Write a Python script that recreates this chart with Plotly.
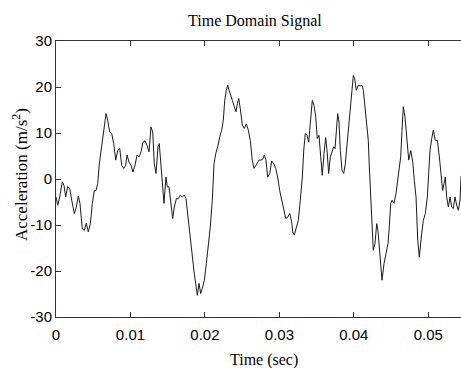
import plotly.graph_objects as go

# time (s) and acceleration (m/s^2)
time_s = [
    0.0, 0.00023, 0.00050, 0.00085, 0.00107, 0.00130, 0.00157, 0.00184, 0.00211, 0.00246,
    0.00273, 0.00300, 0.00322, 0.00353, 0.00380, 0.00407, 0.00434, 0.00461, 0.00488, 0.00514,
    0.00537, 0.00560, 0.00582, 0.00614, 0.00645, 0.00672, 0.00694, 0.00721, 0.00748, 0.00775,
    0.00802, 0.00829, 0.00856, 0.00882, 0.00909, 0.00936, 0.00954, 0.00980, 0.01007, 0.01034,
    0.01061, 0.01088, 0.01115, 0.01142, 0.01168, 0.01195, 0.01222, 0.01249, 0.01276, 0.01299,
    0.01320, 0.01343, 0.01370, 0.01387, 0.01401, 0.01428, 0.01450, 0.01477, 0.01495, 0.01518,
    0.01540, 0.01567, 0.01589, 0.01616, 0.01642, 0.01669, 0.01696, 0.01723, 0.01746, 0.01769,
    0.01790, 0.01813, 0.01836, 0.01857, 0.01876, 0.01898, 0.01921, 0.01943, 0.01965, 0.01992,
    0.02019, 0.02045, 0.02072, 0.02099, 0.02122, 0.02145, 0.02172, 0.02198, 0.02225, 0.02247,
    0.02266, 0.02287, 0.02306, 0.02323, 0.02341, 0.02368, 0.02395, 0.02417, 0.02435, 0.02454,
    0.02475, 0.02502, 0.02529, 0.02556, 0.02583, 0.02609, 0.02636, 0.02659, 0.02686, 0.02717,
    0.02726, 0.02753, 0.02780, 0.02797, 0.02820, 0.02843, 0.02870, 0.02897, 0.02924, 0.02951,
    0.02977, 0.03004, 0.03031, 0.03058, 0.03085, 0.03112, 0.03139, 0.03165, 0.03179, 0.03200,
    0.03227, 0.03254, 0.03281, 0.03308, 0.03327, 0.03348, 0.03371, 0.03394, 0.03407, 0.03425,
    0.03442, 0.03465, 0.03488, 0.03509, 0.03532, 0.03555, 0.03576, 0.03599, 0.03622, 0.03640,
    0.03662, 0.03684, 0.03707, 0.03730, 0.03747, 0.03764, 0.03783, 0.03801, 0.03818, 0.03841,
    0.03864, 0.03885, 0.03908, 0.03931, 0.03952, 0.03975, 0.03993, 0.04011, 0.04033, 0.04060,
    0.04083, 0.04110, 0.04127, 0.04146, 0.04173, 0.04194, 0.04208, 0.04226, 0.04244, 0.04261,
    0.04284, 0.04307, 0.04324, 0.04342, 0.04361, 0.04378, 0.04405, 0.04432, 0.04459, 0.04476,
    0.04495, 0.04513, 0.04539, 0.04566, 0.04593, 0.04611, 0.04629, 0.04647, 0.04664, 0.04687,
    0.04710, 0.04737, 0.04764, 0.04791, 0.04812, 0.04835, 0.04858, 0.04879, 0.04906, 0.04933,
    0.04960, 0.04987, 0.05005, 0.05023, 0.05046, 0.05067, 0.05094, 0.05121, 0.05148, 0.05171,
    0.05193, 0.05211, 0.05228, 0.05247, 0.05269, 0.05292, 0.05314, 0.05336, 0.05359, 0.05381,
    0.05403, 0.05426, 0.05439, 0.05460,
]
accel = [
    -3.9, -5.7, -3.9, -0.6, -1.4, -3.9, -1.6, -2.1, -4.6, -7.5,
    -6.1, -3.7, -5.3, -10.8, -11.2, -9.6, -11.5, -9.7, -5.3, -2.5,
    -2.5, -1.0, 3.3, 7.0, 10.6, 14.2, 12.8, 10.2, 9.9, 7.7,
    4.1, 6.2, 6.6, 3.0, 2.3, 3.0, 5.2, 3.7, 3.0, 1.5,
    3.0, 5.2, 4.8, 5.9, 8.0, 8.3, 7.3, 5.9, 11.3, 10.2,
    3.3, 1.2, 7.0, 7.7, 4.8, -1.0, -5.3, 0.4, -1.7, -1.7,
    -5.3, -8.6, -6.1, -4.3, -4.3, -3.5, -3.9, -3.5, -4.3, -7.9,
    -11.5, -14.0, -18.4, -20.6, -22.7, -25.3, -22.7, -24.9, -23.8, -22.0,
    -18.4, -14.8, -10.4, -4.6, 3.3, 5.5, 7.0, 9.1, 10.6, 12.8,
    17.1, 19.3, 20.4, 19.3, 18.2, 17.1, 15.7, 14.6, 16.4, 17.5,
    15.3, 11.7, 11.0, 12.0, 10.6, 8.4, 4.1, 2.3, 3.0, 3.7,
    4.1, 4.1, 4.4, 5.2, 4.1, 0.4, 1.2, 3.9, 3.3, 2.3,
    0.4, -2.5, -4.6, -6.8, -8.6, -8.3, -7.5, -9.3, -11.5, -12.2,
    -10.8, -9.0, -4.6, 0.4, 6.2, 9.9, 9.5, 8.0, 10.6, 14.6,
    17.1, 16.0, 13.5, 8.8, 9.5, 4.8, 0.8, 5.5, 9.0, 6.2,
    1.2, 4.8, 6.2, 7.0, 6.6, 11.0, 14.2, 12.4, 6.2, 1.9,
    1.2, 3.3, 7.0, 11.0, 14.9, 19.3, 22.5, 21.8, 19.3, 20.4,
    20.2, 20.4, 19.3, 15.7, 11.3, 8.4, 2.6, -4.6, -9.0, -15.5,
    -14.0, -9.7, -11.2, -15.5, -19.1, -22.0, -18.4, -16.2, -14.0, -10.4,
    -5.3, -4.6, -5.3, -3.2, 0.4, 2.6, 4.8, 10.6, 15.7, 13.5,
    9.1, 4.1, 6.2, 3.7, -0.3, -3.9, -13.3, -17.0, -12.6, -9.0,
    -7.5, -3.9, 1.2, 6.2, 8.8, 10.6, 8.4, 8.4, 4.8, 1.2,
    -2.5, -1.0, 0.4, -3.9, -6.1, -3.9, -6.1, -6.4, -3.9, -5.7,
    -6.8, -4.6, 0.4, 1.9,
]

x_tickvals = [0, 0.01, 0.02, 0.03, 0.04, 0.05]
x_ticktext = ["0", "0.01", "0.02", "0.03", "0.04", "0.05"]
y_tickvals = [-30, -20, -10, 0, 10, 20, 30]
y_ticktext = ["-30", "-20", "-10", "0", "10", "20", "30"]

title_text = "Time Domain Signal"
x_title = "Time (sec)"
y_title = "Acceleration (m/s<sup>2</sup>)"

serif = "Liberation Serif, Times New Roman, serif"
narrow = "Liberation Sans Narrow, Arial Narrow, Liberation Sans, Arial, sans-serif"

fig = go.Figure()
fig.add_trace(go.Scatter(
    x=time_s, y=accel, mode="lines",
    line=dict(color="#1a1a1a", width=1),
    showlegend=False, hoverinfo="skip",
))

fig.update_layout(
    width=461, height=368,
    margin=dict(l=56, r=0, t=41, b=51),
    paper_bgcolor="white", plot_bgcolor="white",
    title=dict(text=title_text, x=0.553, xref="container", xanchor="center",
               y=0.945, yref="container", yanchor="middle",
               font=dict(family=serif, size=16, color="black")),
    xaxis=dict(
        range=[0, 0.05439], tickvals=x_tickvals, ticktext=x_ticktext,
        ticks="inside", ticklen=5, tickcolor="#333", tickwidth=1,
        showline=True, linecolor="#333", linewidth=1, mirror="ticks",
        showgrid=False, zeroline=False, ticklabelstandoff=4,
        tickfont=dict(family=narrow, size=15, color="black"),
    ),
    yaxis=dict(
        range=[-30, 30], tickvals=y_tickvals, ticktext=y_ticktext,
        ticks="inside", ticklen=5, tickcolor="#333", tickwidth=1,
        showline=True, linecolor="#333", linewidth=1, mirror=False,
        showgrid=False, zeroline=False,
        tickfont=dict(family=narrow, size=15, color="black"),
    ),
    annotations=[
        dict(text=x_title, xref="paper", yref="paper", x=(264 - 56) / 405, y=-43 / 276,
             xanchor="center", yanchor="middle", showarrow=False,
             font=dict(family=serif, size=16, color="black")),
        dict(text=y_title, xref="paper", yref="paper", x=-36 / 405, y=(317 - 175) / 276,
             xanchor="center", yanchor="middle", showarrow=False, textangle=-90,
             font=dict(family=serif, size=17, color="black")),
    ],
)

fig.write_html("out.html")
